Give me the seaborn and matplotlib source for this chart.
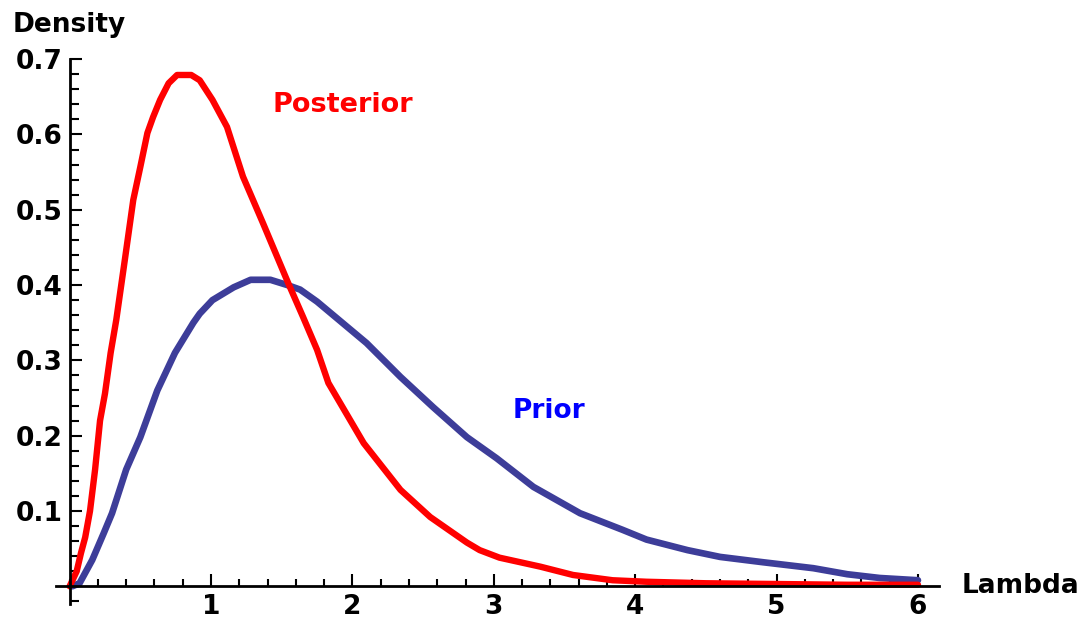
import matplotlib
matplotlib.use("Agg")
import matplotlib.pyplot as plt
from matplotlib.ticker import MultipleLocator, FixedLocator
import seaborn as sns
import pandas as pd

# Posterior density of lambda
posterior_lambda = [0.0, 0.05, 0.08, 0.11, 0.144, 0.18, 0.215, 0.25, 0.29, 0.33,
                    0.39, 0.45, 0.50, 0.55, 0.59, 0.64, 0.70, 0.76, 0.86, 0.92,
                    1.01, 1.113, 1.226, 1.368, 1.545, 1.65, 1.75, 1.83,
                    2.08, 2.34, 2.55, 2.81, 2.90, 3.04, 3.33, 3.56, 3.84, 4.08,
                    4.5, 5.0, 5.5, 6.0]
posterior_density = [0.0, 0.02, 0.044, 0.065, 0.10, 0.155, 0.22, 0.256, 0.31, 0.354,
                     0.433, 0.513, 0.557, 0.602, 0.623, 0.646, 0.668, 0.679, 0.679, 0.672,
                     0.646, 0.61, 0.544, 0.482, 0.403, 0.358, 0.314, 0.27,
                     0.19, 0.128, 0.092, 0.058, 0.048, 0.038, 0.026, 0.015, 0.008, 0.006,
                     0.004, 0.003, 0.002, 0.002]

# Prior density of lambda
prior_lambda = [0.02, 0.07, 0.16, 0.24, 0.30, 0.40, 0.50, 0.62, 0.745, 0.875,
                0.92, 1.01, 1.16, 1.28, 1.42, 1.54, 1.63, 1.75, 2.10, 2.34,
                2.57, 2.81, 3.02, 3.28, 3.61, 3.91, 4.08, 4.37, 4.60, 4.90,
                5.26, 5.50, 5.73, 6.0]
prior_density = [0.0, 0.004, 0.035, 0.07, 0.097, 0.155, 0.198, 0.26, 0.31, 0.35,
                 0.362, 0.38, 0.397, 0.407, 0.407, 0.40, 0.394, 0.378, 0.323, 0.278,
                 0.238, 0.198, 0.17, 0.132, 0.097, 0.075, 0.062, 0.048, 0.039, 0.032,
                 0.024, 0.016, 0.011, 0.008]

x_tick_labels = ["1", "2", "3", "4", "5", "6"]
y_tick_labels = ["0.1", "0.2", "0.3", "0.4", "0.5", "0.6", "0.7"]

POST_COLOR = "#ff0000"
PRIOR_COLOR = "#3d3d99"

sns.set_style("white")
plt.rcParams["font.family"] = ["DejaVu Sans"]
plt.rcParams["font.weight"] = "bold"

fig = plt.figure(figsize=(10.84, 6.19), dpi=100)
ax = fig.add_axes([0.0512, 0.0249, 0.8152, 0.8795])

post_df = pd.DataFrame({"Lambda": posterior_lambda, "Density": posterior_density})
prior_df = pd.DataFrame({"Lambda": prior_lambda, "Density": prior_density})

sns.lineplot(data=prior_df, x="Lambda", y="Density", ax=ax, color=PRIOR_COLOR,
             linewidth=4.8, sort=False, estimator=None, solid_joinstyle="round")
sns.lineplot(data=post_df, x="Lambda", y="Density", ax=ax, color=POST_COLOR,
             linewidth=4.6, sort=False, estimator=None, solid_joinstyle="round")

ax.set_xlim(-0.1, 6.15)
ax.set_ylim(-0.023, 0.7)
ax.set_xlabel("")
ax.set_ylabel("")

# Axes cross at the origin
for side in ("top", "right"):
    ax.spines[side].set_visible(False)
ax.spines["left"].set_position(("data", 0))
ax.spines["bottom"].set_position(("data", 0))
for side in ("left", "bottom"):
    ax.spines[side].set_color("black")
    ax.spines[side].set_linewidth(2.0)

ax.xaxis.set_major_locator(FixedLocator([1, 2, 3, 4, 5, 6]))
ax.set_xticklabels(x_tick_labels)
ax.xaxis.set_minor_locator(MultipleLocator(0.2))
ax.yaxis.set_major_locator(FixedLocator([0.1, 0.2, 0.3, 0.4, 0.5, 0.6, 0.7]))
ax.set_yticklabels(y_tick_labels)
ax.yaxis.set_minor_locator(MultipleLocator(0.02))

ax.tick_params(axis="both", which="both", direction="in", color="black",
               labelsize=19, labelcolor="black")
ax.tick_params(axis="x", which="major", length=8.5, width=1.5, pad=5.5, bottom=True)
ax.tick_params(axis="x", which="minor", length=5, width=1.5, bottom=True)
ax.tick_params(axis="y", which="major", length=8.5, width=1.5, pad=5, left=True)
ax.tick_params(axis="y", which="minor", length=6.5, width=1.5, left=True)
for lbl in ax.get_xticklabels() + ax.get_yticklabels():
    lbl.set_fontweight("bold")

ax.text(0, 0.7365, "Density", ha="center", va="baseline", fontsize=19,
        fontweight="bold", color="black", clip_on=False)
ax.text(6.31, -0.0093, "Lambda", ha="left", va="baseline", fontsize=19,
        fontweight="bold", color="black", clip_on=False)
ax.text(1.432, 0.6305, "Posterior", ha="left", va="baseline", fontsize=19.5,
        fontweight="bold", color="#ff0000")
ax.text(3.136, 0.2235, "Prior", ha="left", va="baseline", fontsize=19,
        fontweight="bold", color="#0000ff")

fig.savefig("out.png", dpi=100, facecolor="white")
